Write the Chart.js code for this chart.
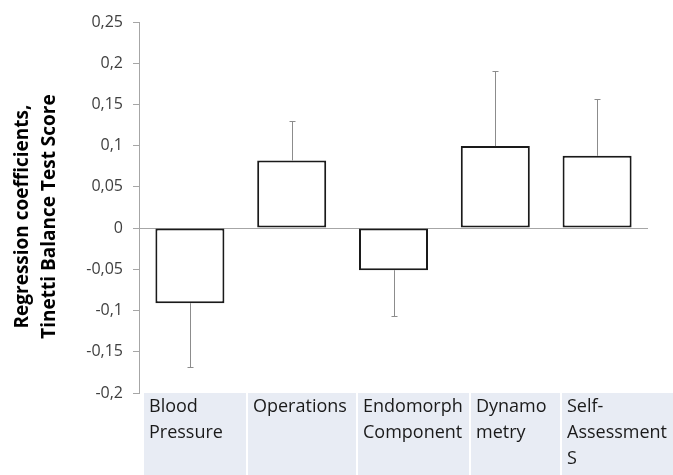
<!DOCTYPE html>
<html>
<head>
<meta charset="utf-8">
<script src="https://cdn.jsdelivr.net/npm/chart.js@4"></script>
<style>
  html, body { margin: 0; padding: 0; background: #ffffff; }
  canvas { display: block; }
</style>
</head>
<body>
<canvas id="c" width="673" height="475"></canvas>
<script>
// ---- data ----
const categories = ['Blood Pressure', 'Operations', 'Endomorph Component', 'Dynamometry', 'Self-Assessments'];
const tableLabels = [['Blood', 'Pressure'], ['Operations'], ['Endomorph', 'Component'], ['Dynamo', 'metry'], ['Self-', 'Assessment', 'S']];
const coefficients = [-0.091, 0.082, -0.051, 0.0995, 0.0877];
const errorSizes = [0.077, 0.048, 0.055, 0.0905, 0.069];
const yTicks = [-0.2, -0.15, -0.1, -0.05, 0, 0.05, 0.1, 0.15, 0.2, 0.25];
const yTitle = ['Regression coefficients,', 'Tinetti Balance Test Score'];

// ---- layout/style (not data) ----
const tableColumnWidths = [102, 108, 111, 89, 130];
const tableGap = 2;
const axisGray = '#a6a6a6';
const titleBaselines = [28, 55];
const titleShift = 9;

const errorBarPlugin = {
  id: 'errorBars',
  afterDatasetsDraw(chart) {
    const meta = chart.getDatasetMeta(0);
    const yScale = chart.scales.y;
    const ctx = chart.ctx;
    ctx.save();
    ctx.strokeStyle = '#8c8c8c';
    ctx.lineWidth = 1;
    meta.data.forEach((bar, i) => {
      const v = coefficients[i];
      const end = v >= 0 ? v + errorSizes[i] : v - errorSizes[i];
      const x = Math.round(bar.x) + 0.5;
      const y0 = bar.y;
      const y1 = Math.round(yScale.getPixelForValue(end)) + 0.5;
      ctx.beginPath();
      ctx.moveTo(x, y0);
      ctx.lineTo(x, y1);
      ctx.moveTo(x - 3, y1);
      ctx.lineTo(x + 3, y1);
      ctx.stroke();
    });
    ctx.restore();
  }
};

const titlePlugin = {
  id: 'yTitle',
  afterDraw(chart) {
    const ctx = chart.ctx;
    const area = chart.chartArea;
    const cy = (area.top + area.bottom) / 2 + titleShift;
    ctx.save();
    ctx.translate(0, cy);
    ctx.rotate(-Math.PI / 2);
    ctx.font = 'bold 19px "Open Sans"';
    ctx.fillStyle = '#000000';
    ctx.textAlign = 'center';
    ctx.textBaseline = 'alphabetic';
    yTitle.forEach((line, i) => ctx.fillText(line, 0, titleBaselines[i]));
    ctx.restore();
  }
};

const tablePlugin = {
  id: 'categoryTable',
  afterDraw(chart) {
    const ctx = chart.ctx;
    const area = chart.chartArea;
    const top = area.bottom;
    const bottom = chart.height;
    let x = area.left + 5;
    ctx.save();
    ctx.font = '18px "Open Sans"';
    ctx.textBaseline = 'alphabetic';
    ctx.textAlign = 'left';
    tableLabels.forEach((lines, i) => {
      const w = tableColumnWidths[i];
      ctx.fillStyle = '#e8ecf4';
      ctx.fillRect(x, top, w, bottom - top);
      ctx.fillStyle = '#1a1a1a';
      lines.forEach((line, j) => {
        ctx.fillText(line, x + 5, top + 19 + j * 26);
      });
      x += w + tableGap;
    });
    ctx.restore();
  }
};

new Chart(document.getElementById('c'), {
  type: 'bar',
  data: {
    labels: categories,
    datasets: [{
      data: coefficients,
      backgroundColor: '#ffffff',
      borderColor: '#1a1a1a',
      borderWidth: 2,
      borderSkipped: false,
      categoryPercentage: 1,
      barPercentage: 0.678
    }]
  },
  options: {
    responsive: false,
    animation: false,
    devicePixelRatio: 1,
    layout: { padding: { top: 22, right: 25, bottom: 82, left: 0 } },
    plugins: { legend: { display: false }, tooltip: { enabled: false } },
    scales: {
      x: { display: false },
      y: {
        min: -0.2,
        max: 0.25,
        afterBuildTicks(scale) { scale.ticks = yTicks.map(v => ({ value: v })); },
        afterFit(scale) { scale.width = 139; },
        ticks: {
          padding: 10,
          color: '#404040',
          font: { family: '"Open Sans"', size: 16 },
          callback: (v) => String(Math.round(v * 100) / 100).replace('.', ',')
        },
        grid: {
          drawOnChartArea: true,
          drawTicks: true,
          tickLength: 6,
          tickColor: axisGray,
          color: (c) => (c.tick && c.tick.value === 0 ? axisGray : 'transparent'),
          lineWidth: 1
        },
        border: { display: true, color: axisGray, width: 1 },
        title: { display: false }
      }
    }
  },
  plugins: [errorBarPlugin, titlePlugin, tablePlugin]
});
</script>
</body>
</html>
